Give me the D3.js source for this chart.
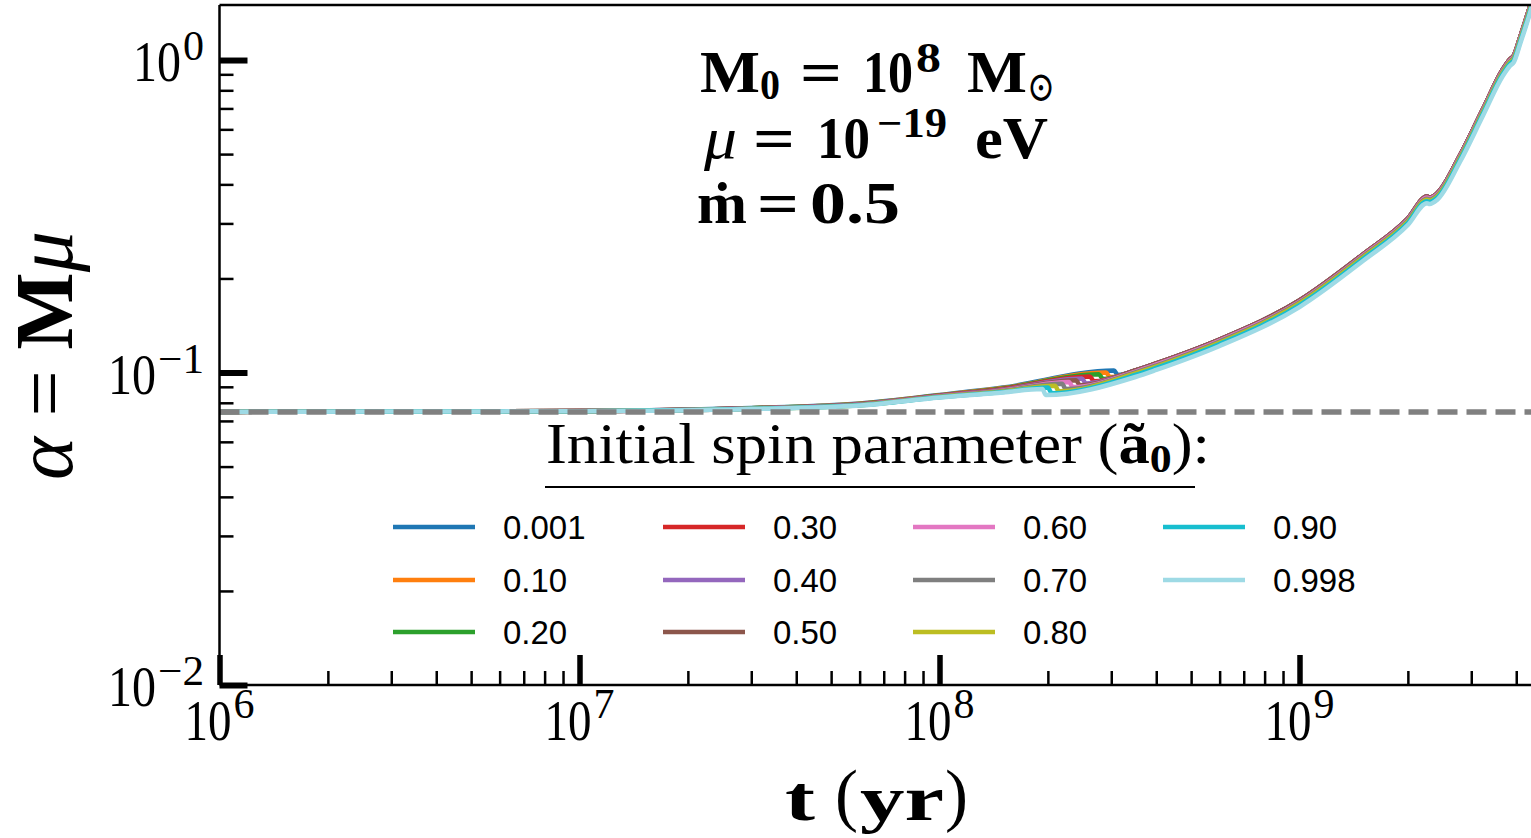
<!DOCTYPE html>
<html>
<head>
<meta charset="utf-8">
<script src="https://cdn.jsdelivr.net/npm/d3@7"></script>
<style>
  body { margin: 0; background: #fff; }
  svg { display: block; }
</style>
</head>
<body>
<svg id="chart" width="1531" height="838"></svg>
<script>
/*
 * DATA
 */

var spinLabels = ['0.001', '0.10', '0.20', '0.30', '0.40', '0.50', '0.60', '0.70', '0.80', '0.90', '0.998'];
var spinColors = ['#1f77b4', '#ff7f0e', '#2ca02c', '#d62728', '#9467bd', '#8c564b',
                  '#e377c2', '#7f7f7f', '#bcbd22', '#17becf', '#9edae5'];

// initial alpha = M0 * mu (dashed line)
var alphaInitial = 0.0748;

// early growth, before the first superradiant drop (t in yr)
var earlyTimes = [1e6, 3e6, 1e7, 3e7, 6e7, 1e8, 1.5e8];
var earlyAlpha = [
  [0.0748, 0.0750, 0.0753, 0.0770, 0.0796, 0.0847, 0.0895],
  [0.0748, 0.0750, 0.0753, 0.0769, 0.0795, 0.0846, 0.0892],
  [0.0748, 0.0750, 0.0753, 0.0769, 0.0793, 0.0844, 0.0889],
  [0.0748, 0.0750, 0.0753, 0.0768, 0.0792, 0.0843, 0.0886],
  [0.0748, 0.0750, 0.0753, 0.0768, 0.0791, 0.0841, 0.0882],
  [0.0748, 0.0750, 0.0753, 0.0767, 0.0790, 0.0839, 0.0879],
  [0.0748, 0.0750, 0.0752, 0.0766, 0.0789, 0.0838, 0.0876],
  [0.0748, 0.0750, 0.0752, 0.0766, 0.0788, 0.0836, 0.0873],
  [0.0748, 0.0750, 0.0752, 0.0765, 0.0786, 0.0835, 0.0869],
  [0.0748, 0.0750, 0.0752, 0.0765, 0.0785, 0.0833, 0.0866],
  [0.0748, 0.0750, 0.0752, 0.0764, 0.0784, 0.0832, 0.0863]
];

// the drop: [t before, alpha before, t after, alpha after]
var dropPoints = [
  [3.053e8, 0.1015, 3.13e8, 0.09817],
  [2.901e8, 0.1000, 2.974e8, 0.09667],
  [2.774e8, 0.09868, 2.843e8, 0.09532],
  [2.618e8, 0.09710, 2.684e8, 0.09372],
  [2.488e8, 0.09568, 2.55e8, 0.09228],
  [2.394e8, 0.09448, 2.454e8, 0.09107],
  [2.289e8, 0.09324, 2.346e8, 0.08980],
  [2.189e8, 0.09201, 2.244e8, 0.08849],
  [2.093e8, 0.09073, 2.145e8, 0.08713],
  [2.000e8, 0.08954, 2.05e8, 0.08579],
  [1.930e8, 0.08849, 1.976e8, 0.08466]
];

// late growth after the drop
var lateTimes = [3.5e8, 4e8, 6e8, 1e9, 1.5e9, 2e9, 2.26e9, 2.30e9, 2.41e9, 2.79e9,
                 3.23e9, 3.67e9, 3.84e9, 3.94e9, 4.10e9, 4.40e9, 4.60e9];
var lateLow  = [0.1015, 0.1069, 0.1275, 0.1700, 0.2386, 0.3110, 0.3655, 0.3630, 0.3739, 0.4948,
                0.6944, 0.9324, 1.0037, 1.0337, 1.1803, 1.5276, 1.8365];
var late060  = [0.1007, 0.1061, 0.1266, 0.1687, 0.2368, 0.3087, 0.3628, 0.3604, 0.3712, 0.4911,
                0.6893, 0.9255, 0.9963, 1.0261, 1.1717, 1.5163, 1.8231];
var late070  = [0.1000, 0.1053, 0.1257, 0.1675, 0.2351, 0.3065, 0.3601, 0.3577, 0.3685, 0.4875,
                0.6842, 0.9188, 0.9890, 1.0186, 1.1631, 1.5052, 1.8097];
var late080  = [0.09926, 0.1045, 0.1247, 0.1663, 0.2334, 0.3042, 0.3574, 0.3551, 0.3658, 0.4840,
                0.6792, 0.9120, 0.9817, 1.0111, 1.1545, 1.4942, 1.7964];
var late090  = [0.09817, 0.1034, 0.1234, 0.1644, 0.2308, 0.3009, 0.3535, 0.3512, 0.3617, 0.4786,
                0.6717, 0.9020, 0.9710, 1.0000, 1.1418, 1.4777, 1.7766];
var late0998 = [0.09674, 0.1019, 0.1216, 0.1620, 0.2274, 0.2965, 0.3482, 0.3461, 0.3565, 0.4716,
                0.6619, 0.8888, 0.9568, 0.9854, 1.1251, 1.4561, 1.7507];
var lateBySeries = [lateLow, lateLow, lateLow, lateLow, lateLow, lateLow,
                    late060, late070, late080, late090, late0998];

// axis ticks
var xMajor = [1e6, 1e7, 1e8, 1e9];
var xMajorExp = ['6', '7', '8', '9'];
var yMajor = [0.01, 0.1, 1];
var yMajorExp = ['\u22122', '\u22121', '0'];

/*
 * SET UP
 */

var plot = {left: 219.5, right: 1533.5, top: 5, bottom: 685};
var serif = "'Liberation Serif', 'DejaVu Serif', serif";
var sans = "'Liberation Sans', Arial, sans-serif";

var svg = d3.select('#chart');

var x = d3.scaleLog().domain([1e6, Math.pow(10, 9.65)]).range([plot.left, plot.right]);
var y = d3.scaleLog().domain([0.01, 1.5]).range([plot.bottom, plot.top]);

// one piece of math text, squeezed/stretched to the width it has in the figure
function piece(parent, p) {
  var t = parent.append('text')
    .attr('transform', 'translate(' + p.x + ',' + p.y + ') scale(1,' + (p.sy || 1) + ')')
    .attr('font-family', p.family || serif)
    .attr('font-size', p.size)
    .attr('fill', '#000')
    .text(p.t);
  if (p.w) t.attr('textLength', p.w).attr('lengthAdjust', 'spacingAndGlyphs');
  if (p.bold) t.attr('font-weight', 'bold');
  if (p.italic) t.attr('font-style', 'italic');
  return t;
}

// text with sub/superscripts made of tspans
function richText(parent, o, parts) {
  var tf = 'translate(' + o.x + ',' + o.y + ')';
  if (o.rotate) tf += ' rotate(' + o.rotate + ')';
  if (o.sy) tf += ' scale(1,' + o.sy + ')';
  var t = parent.append('text')
    .attr('transform', tf)
    .attr('font-family', o.family || serif)
    .attr('font-size', o.size)
    .attr('text-anchor', o.anchor || 'start')
    .attr('fill', '#000');
  var shift = 0;
  parts.forEach(function (p) {
    var target = p.sup ? -o.size * (o.raise || 0.4) : (p.sub ? o.size * (o.drop || 0.15) : 0);
    var ts = t.append('tspan').attr('dy', target - shift).text(p.t);
    shift = target;
    if (p.sup || p.sub) ts.attr('font-size', o.size * (o.small || 0.72));
    if (p.bold) ts.attr('font-weight', 'bold');
    if (p.italic) ts.attr('font-style', 'italic');
  });
  if (o.w) t.attr('textLength', o.w).attr('lengthAdjust', 'spacingAndGlyphs');
  return t;
}

/*
 * CURVES
 */

svg.append('clipPath').attr('id', 'plotClip')
  .append('rect')
  .attr('x', plot.left).attr('y', plot.top)
  .attr('width', plot.right - plot.left).attr('height', plot.bottom - plot.top);

var line = d3.line()
  .x(function (d) { return x(d[0]); })
  .y(function (d) { return y(d[1]); })
  .curve(d3.curveMonotoneX);

var series = spinLabels.map(function (label, i) {
  var pts = earlyTimes.map(function (t, k) { return [t, earlyAlpha[i][k]]; });
  pts.push([dropPoints[i][0], dropPoints[i][1]]);
  pts.push([dropPoints[i][2], dropPoints[i][3]]);
  lateTimes.forEach(function (t, k) { pts.push([t, lateBySeries[i][k]]); });
  return {label: label, color: spinColors[i], points: pts};
});

var curves = svg.append('g').attr('clip-path', 'url(#plotClip)');

curves.selectAll('path.curve')
  .data(series)
  .enter().append('path')
  .attr('class', 'curve')
  .attr('d', function (d) { return line(d.points); })
  .attr('fill', 'none')
  .attr('stroke', function (d) { return d.color; })
  .attr('stroke-width', 4.5)
  .attr('stroke-linejoin', 'round');

// alpha at t = 0
curves.append('line')
  .attr('x1', plot.left).attr('x2', plot.right)
  .attr('y1', y(alphaInitial)).attr('y2', y(alphaInitial))
  .attr('stroke', '#808080')
  .attr('stroke-width', 5.5)
  .attr('stroke-dasharray', '20,9');

/*
 * AXES
 */

function styleTicks(g, width) {
  g.select('.domain').remove();
  g.selectAll('.tick line').attr('stroke', '#000').attr('stroke-width', width);
  g.selectAll('.tick text').remove();
}

var xMinor = x.ticks().filter(function (v) { return xMajor.indexOf(v) < 0; });
var yMinor = y.ticks().filter(function (v) { return yMajor.indexOf(v) < 0; });

svg.append('g')
  .attr('transform', 'translate(0,' + plot.bottom + ')')
  .call(d3.axisTop(x).tickValues(xMinor).tickSize(14).tickFormat(''))
  .call(styleTicks, 2.5);
svg.append('g')
  .attr('transform', 'translate(0,' + plot.bottom + ')')
  .call(d3.axisTop(x).tickValues(xMajor).tickSize(30).tickFormat(''))
  .call(styleTicks, 5.5);

svg.append('g')
  .attr('transform', 'translate(' + plot.left + ',0)')
  .call(d3.axisRight(y).tickValues(yMinor).tickSize(14).tickFormat(''))
  .call(styleTicks, 2.5);
svg.append('g')
  .attr('transform', 'translate(' + plot.left + ',0)')
  .call(d3.axisRight(y).tickValues(yMajor).tickSize(28).tickFormat(''))
  .call(styleTicks, 6);

// spines (the right one lies just outside the picture)
var spines = svg.append('g').attr('stroke', '#000').attr('stroke-width', 2.5);
spines.append('line').attr('x1', plot.left).attr('x2', plot.left).attr('y1', plot.top).attr('y2', plot.bottom);
spines.append('line').attr('x1', plot.left).attr('x2', plot.right).attr('y1', plot.bottom).attr('y2', plot.bottom);
spines.append('line').attr('x1', plot.left).attr('x2', plot.right).attr('y1', plot.top).attr('y2', plot.top);

// tick labels: "10" plus exponent
function expWidth(e) { return e.length > 1 ? 46 : 21; }

xMajor.forEach(function (v, i) {
  var x0 = x(v) - 35;
  piece(svg, {t: '10', x: x0, y: plot.bottom + 55, size: 47, sy: 1.2, w: 47});
  piece(svg, {t: xMajorExp[i], x: x0 + 49, y: plot.bottom + 33, size: 35, sy: 1.2, w: expWidth(xMajorExp[i])});
});
yMajor.forEach(function (v, i) {
  var e = yMajorExp[i];
  var xe = 204 - expWidth(e);
  piece(svg, {t: '10', x: xe - 50, y: y(v) + 21, size: 47, sy: 1.2, w: 48});
  piece(svg, {t: e, x: xe, y: y(v) + 0, size: 35, sy: 1.2, w: expWidth(e)});
});

// axis titles
richText(svg, {x: 72, y: 480, size: 82, rotate: -90},
  [{t: '\u03b1', italic: true}, {t: ' = '}, {t: 'M', bold: true}, {t: '\u03bc', italic: true}]);

piece(svg, {t: 't', x: 785, y: 820, size: 64, bold: true, w: 30});
piece(svg, {t: '(', x: 835, y: 818, size: 70, w: 23});
piece(svg, {t: 'yr', x: 860, y: 820, size: 64, bold: true, w: 84});
piece(svg, {t: ')', x: 945, y: 818, size: 70, w: 23});

/*
 * ANNOTATION
 */

var ann = svg.append('g');
[
  {t: 'M', x: 700, y: 92, w: 60, bold: true},
  {t: '0', x: 760, y: 99, w: 20, size: 35, bold: true},
  {t: '=', x: 800, y: 92, w: 42, bold: true},
  {t: '10', x: 863, y: 92, w: 50, bold: true},
  {t: '8', x: 916, y: 72, w: 25, size: 35, bold: true},
  {t: 'M', x: 967, y: 92, w: 60, bold: true},
  {t: '\u2299', x: 1027, y: 101, w: 28, size: 36},
  {t: '\u03bc', x: 704, y: 158, w: 33, italic: true},
  {t: '=', x: 753, y: 158, w: 42, bold: true},
  {t: '10', x: 817, y: 158, w: 53, bold: true},
  {t: '\u221219', x: 877, y: 137, w: 70, size: 35, bold: true},
  {t: 'eV', x: 975, y: 158, w: 73, bold: true},
  {t: '\u1e41', x: 697, y: 223, w: 50, bold: true},
  {t: '=', x: 757, y: 223, w: 42, bold: true},
  {t: '0.5', x: 810, y: 223, w: 90, bold: true}
].forEach(function (p) {
  p.size = p.size || 50;
  p.sy = 1.18;
  piece(ann, p);
});

/*
 * LEGEND
 */

var legendColX = [393, 663, 913, 1163];
var legendRowY = [527, 580, 632];

richText(svg, {x: 546, y: 463, size: 57, drop: 0.15, small: 0.7, w: 664}, [
  {t: 'Initial spin parameter ('}, {t: '\u00e3', bold: true}, {t: '0', sub: true, bold: true}, {t: '):'}
]);
svg.append('line')
  .attr('x1', 545).attr('x2', 1195).attr('y1', 487).attr('y2', 487)
  .attr('stroke', '#000').attr('stroke-width', 2);

var items = svg.append('g').selectAll('g.item')
  .data(series)
  .enter().append('g')
  .attr('class', 'item')
  .attr('transform', function (d, i) {
    return 'translate(' + legendColX[Math.floor(i / 3)] + ',' + legendRowY[i % 3] + ')';
  });

items.append('line')
  .attr('x1', 0).attr('x2', 82)
  .attr('stroke', function (d) { return d.color; })
  .attr('stroke-width', 4.5);

items.append('text')
  .attr('x', 110).attr('y', 12)
  .attr('font-family', sans)
  .attr('font-size', 33)
  .text(function (d) { return d.label; });
</script>
</body>
</html>
